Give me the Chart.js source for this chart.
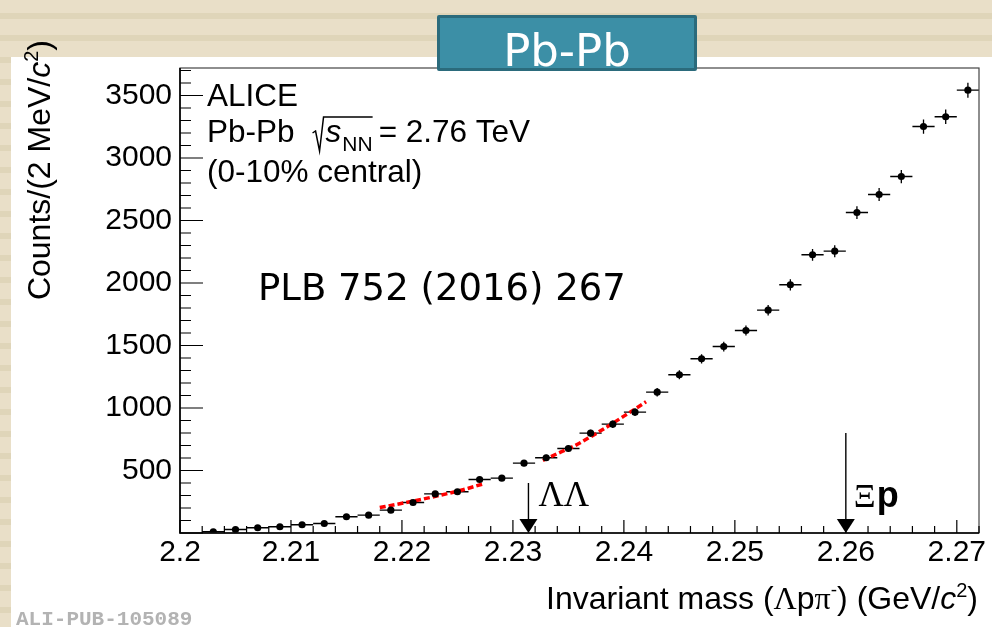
<!DOCTYPE html>
<html lang="en">
<head>
<meta charset="UTF-8">
<title>Pb-Pb invariant mass</title>
<script src="https://cdn.jsdelivr.net/npm/chart.js@4.4.0/dist/chart.umd.min.js"></script>
<style>
    html, body { margin: 0; padding: 0; }
    body {
        width: 992px; height: 627px; overflow: hidden; position: relative;
        background: repeating-linear-gradient(to bottom,
            #e9dfc8 0px, #e9dfc8 13px, #dfd5b9 13px, #dfd5b9 19px, #e9dfc8 19px, #e9dfc8 22px);
    }
    #panel { position: absolute; left: 11px; top: 57px; right: 0; bottom: 0; background: #fff; }
    #massChart { position: absolute; left: 0; top: 0; }
    #titleBox {
        position: absolute; left: 437px; top: 15px; width: 254px; height: 50px;
        background: #3c8fa6; border: 3px solid #2b6b7c; border-radius: 2px;
    }
    #titleBox span {
        position: absolute; left: 0; right: 0; top: 10px; text-align: center;
        font-family: "DejaVu Sans"; font-size: 45px; line-height: 45px; color: #fff;
    }
</style>
</head>
<body>
<div id="panel"></div>
<canvas id="massChart" width="992" height="627"></canvas>
<div id="titleBox"><span>Pb-Pb</span></div>

<script>
// bin centres (GeV/c^2), 2 MeV bins
const massBins = [2.203, 2.205, 2.207, 2.209, 2.211, 2.213, 2.215, 2.217, 2.219, 2.221,
                  2.223, 2.225, 2.227, 2.229, 2.231, 2.233, 2.235, 2.237, 2.239, 2.241,
                  2.243, 2.245, 2.247, 2.249, 2.251, 2.253, 2.255, 2.257, 2.259, 2.261,
                  2.263, 2.265, 2.267, 2.269, 2.271];
const counts = [10, 28, 42, 50, 66, 76, 130, 143, 183, 244,
                313, 330, 428, 439, 559, 602, 676, 799, 871, 967,
                1127, 1266, 1394, 1492, 1620, 1783, 1986, 2226, 2255, 2564,
                2708, 2852, 3252, 3330, 3543];
const countErrors = [3, 5, 6, 7, 8, 9, 11, 12, 14, 16,
                     18, 18, 21, 21, 24, 25, 26, 28, 30, 31,
                     34, 36, 37, 39, 40, 42, 45, 47, 48, 51,
                     52, 53, 57, 58, 60];
const binHalfWidth = 0.001;

// red dashed fits
const fitLowX = [2.2180, 2.2195, 2.2210, 2.2225, 2.2240, 2.2255, 2.2273];
const fitLowY = [204, 229, 255, 283, 313, 346, 392];
const fitHighX = [2.2327, 2.2340, 2.2355, 2.2370, 2.2385, 2.2400, 2.2420];
const fitHighY = [580, 635, 695, 770, 850, 935, 1050];

// thresholds
const thresholdMass = [2.2314, 2.26];
const arrowTop = [400, 800];

const xTickLabels = [2.2, 2.21, 2.22, 2.23, 2.24, 2.25, 2.26, 2.27];
const yTickLabels = [500, 1000, 1500, 2000, 2500, 3000, 3500];

const SANS = '"Liberation Sans", Arial, sans-serif';
const SERIF = '"Liberation Serif", "Times New Roman", serif';

function drawRuns(ctx, runs, x, y, align) {
    let total = 0;
    runs.forEach(r => { ctx.font = r[1]; total += ctx.measureText(r[0]).width; });
    let cx = align === 'right' ? x - total : x;
    runs.forEach(r => {
        ctx.font = r[1];
        ctx.fillText(r[0], cx, y + (r[2] || 0));
        cx += ctx.measureText(r[0]).width;
    });
    return cx;
}

const rootStyle = {
    id: 'rootStyle',
    beforeDatasetsDraw(chart) {
        const {ctx, scales: {x, y}} = chart;
        ctx.save();
        ctx.strokeStyle = '#000';
        ctx.lineWidth = 1.3;
        massBins.forEach((m, i) => {
            const px = x.getPixelForValue(m), py = y.getPixelForValue(counts[i]);
            ctx.beginPath();
            ctx.moveTo(x.getPixelForValue(m - binHalfWidth), py);
            ctx.lineTo(x.getPixelForValue(m + binHalfWidth), py);
            ctx.moveTo(px, y.getPixelForValue(counts[i] - countErrors[i]));
            ctx.lineTo(px, y.getPixelForValue(counts[i] + countErrors[i]));
            ctx.stroke();
        });
        ctx.restore();
    },
    afterDraw(chart) {
        const {ctx, chartArea: a, scales: {x, y}} = chart;
        ctx.save();

        // frame
        ctx.strokeStyle = '#444';
        ctx.lineWidth = 1.2;
        ctx.strokeRect(a.left, a.top, a.right - a.left, a.bottom - a.top);
        ctx.strokeStyle = '#000';
        ctx.lineWidth = 1.6;
        ctx.beginPath();
        ctx.moveTo(a.left, a.top); ctx.lineTo(a.left, a.bottom); ctx.lineTo(a.right, a.bottom);
        ctx.stroke();

        // inner ticks
        ctx.lineWidth = 1.2;
        ctx.beginPath();
        for (let k = 0; k * 100 <= y.max; k++) {
            const py = y.getPixelForValue(k * 100);
            ctx.moveTo(a.left, py);
            ctx.lineTo(a.left + (k % 5 === 0 ? 23 : 11), py);
        }
        for (let k = 0; 2.2 + k * 0.002 <= x.max + 1e-9; k++) {
            const px = x.getPixelForValue(2.2 + k * 0.002);
            ctx.moveTo(px, a.bottom);
            ctx.lineTo(px, a.bottom - (k % 5 === 0 ? 13 : 7));
        }
        ctx.stroke();

        // threshold arrows
        ctx.fillStyle = '#000';
        ctx.lineWidth = 1.4;
        thresholdMass.forEach((m, i) => {
            const px = x.getPixelForValue(m), top = y.getPixelForValue(arrowTop[i]);
            ctx.beginPath();
            ctx.moveTo(px, top); ctx.lineTo(px, a.bottom - 10);
            ctx.stroke();
            ctx.beginPath();
            ctx.moveTo(px - 9, a.bottom - 14); ctx.lineTo(px + 9, a.bottom - 14); ctx.lineTo(px, a.bottom);
            ctx.closePath();
            ctx.fill();
        });
        ctx.textAlign = 'left';
        ctx.textBaseline = 'alphabetic';
        ctx.font = '35px ' + SERIF;
        ctx.fillText('ΛΛ', x.getPixelForValue(thresholdMass[0]) + 10, 506);
        let cx = x.getPixelForValue(thresholdMass[1]) + 8;
        ctx.font = '34px ' + SERIF;
        ctx.fillText('Ξ', cx, 507);
        cx += ctx.measureText('Ξ').width + 1;
        ctx.font = 'bold 36px ' + SANS;
        ctx.fillText('p', cx, 507);

        // ALICE labels
        const F31 = '31.5px ' + SANS;
        ctx.font = F31;
        ctx.fillText('ALICE', 207, 106);
        ctx.fillText('Pb-Pb', 207, 142);
        cx = 207 + ctx.measureText('Pb-Pb').width + 18;
        const rx = cx;
        cx += 13;
        ctx.font = 'italic 31.5px ' + SANS;
        ctx.fillText('s', cx, 142);
        cx += ctx.measureText('s').width + 1;
        ctx.font = '21px ' + SANS;
        ctx.fillText('NN', cx, 151);
        cx += ctx.measureText('NN').width;
        ctx.lineWidth = 1.5;
        ctx.beginPath();
        ctx.moveTo(rx, 133); ctx.lineTo(rx + 3, 131); ctx.lineTo(rx + 7, 151);
        ctx.lineTo(rx + 11, 117); ctx.lineTo(cx, 117);
        ctx.stroke();
        ctx.font = F31;
        ctx.fillText('= 2.76 TeV', cx + 6, 142);
        ctx.fillText('(0-10% central)', 207, 182);

        ctx.font = '37px "DejaVu Sans", sans-serif';
        ctx.fillText('PLB 752 (2016) 267', 258, 300);

        // axis titles
        const F32 = '32px ' + SANS;
        drawRuns(ctx, [
            ['Invariant mass (', F32], ['Λ', '32px ' + SERIF], ['p', F32], ['π', '32px ' + SERIF],
            ['-', '19px ' + SANS, -13], [') (GeV/', F32], ['c', 'italic 32px ' + SANS],
            ['2', '20px ' + SANS, -12], [')', F32]
        ], 978, 609, 'right');

        ctx.save();
        ctx.translate(50, 40);
        ctx.rotate(-Math.PI / 2);
        drawRuns(ctx, [
            ['Counts/(2 MeV/', F32], ['c', 'italic 32px ' + SANS],
            ['2', '20px ' + SANS, -12], [')', F32]
        ], 0, 0, 'right');
        ctx.restore();

        ctx.fillStyle = '#b3b3b3';
        ctx.font = 'bold 21px "Liberation Mono", "Courier New", monospace';
        ctx.fillText('ALI-PUB-105089', 16, 625);

        ctx.restore();
    }
};

const tickFont = {family: 'Liberation Sans', size: 30};

new Chart(document.getElementById('massChart'), {
    type: 'scatter',
    data: {
        datasets: [{
            data: massBins.map((m, i) => ({x: m, y: counts[i]})),
            pointRadius: 3.6,
            pointBackgroundColor: '#000',
            pointBorderWidth: 0,
            showLine: false
        }, {
            data: fitLowX.map((v, i) => ({x: v, y: fitLowY[i]})),
            showLine: true, pointRadius: 0, borderColor: '#ff0000', borderWidth: 3.5,
            borderDash: [6, 3], cubicInterpolationMode: 'monotone'
        }, {
            data: fitHighX.map((v, i) => ({x: v, y: fitHighY[i]})),
            showLine: true, pointRadius: 0, borderColor: '#ff0000', borderWidth: 3.5,
            borderDash: [6, 3], cubicInterpolationMode: 'monotone'
        }]
    },
    options: {
        responsive: false,
        animation: false,
        devicePixelRatio: 1,
        layout: {padding: {left: 0, right: 13, top: 68, bottom: 0}},
        plugins: {legend: {display: false}, tooltip: {enabled: false}},
        scales: {
            x: {
                type: 'linear', min: 2.2, max: 2.272,
                grid: {display: false, drawTicks: false},
                border: {display: false},
                afterBuildTicks: s => { s.ticks = xTickLabels.map(v => ({value: v})); },
                afterFit: s => { s.height = 94; },
                ticks: {padding: 2, color: '#000', font: tickFont, maxRotation: 0, autoSkip: false,
                        callback: v => String(v)}
            },
            y: {
                type: 'linear', min: 0, max: 3720,
                grid: {display: false, drawTicks: false},
                border: {display: false},
                afterBuildTicks: s => { s.ticks = yTickLabels.map(v => ({value: v})); },
                afterFit: s => { s.width = 180; },
                ticks: {padding: 8, color: '#000', font: tickFont, callback: v => String(v)}
            }
        }
    },
    plugins: [rootStyle]
});
</script>
</body>
</html>
